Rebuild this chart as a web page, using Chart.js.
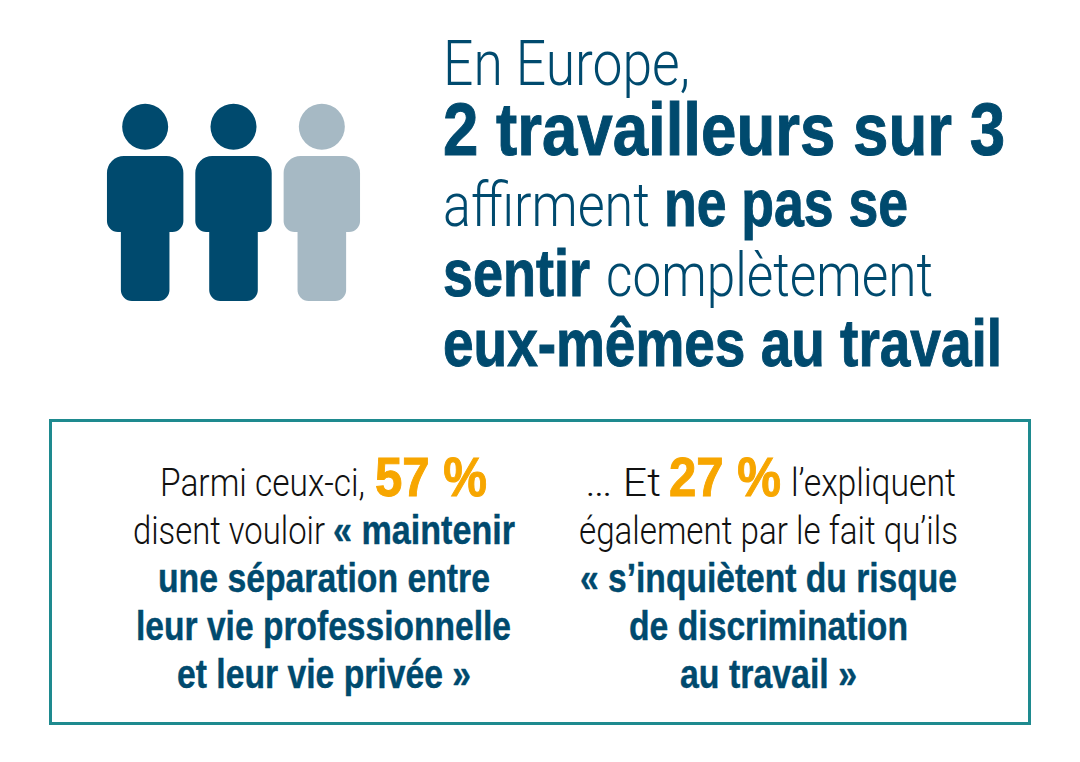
<!DOCTYPE html>
<html lang="fr">
<head>
<meta charset="utf-8">
<title>En Europe, 2 travailleurs sur 3</title>
<script src="https://cdn.jsdelivr.net/npm/chart.js@4"></script>
<style>
  html, body { margin: 0; padding: 0; background: #fff; }
  #page { position: relative; width: 1080px; height: 762px; overflow: hidden; }
  #people { position: absolute; left: 101.3px; top: 100px; width: 265.3px; height: 201px; }
  #box { position: absolute; left: 49px; top: 419px; width: 976px; height: 300px; border: 3px solid #1e8a8f; }
  .t { position: absolute; white-space: pre; transform-origin: 0 0; color: #004a6e; line-height: 0.8; }
  .l { font-family: Roboto, sans-serif; font-weight: 300; }
  .b { font-family: "Liberation Sans Narrow", sans-serif; font-weight: 700; -webkit-text-stroke: 0.4px currentColor; }
  .h { -webkit-text-stroke: 1px currentColor; }
  .k { color: #111; }
  .o { color: #f7a600; -webkit-text-stroke: 1px currentColor; }
</style>
</head>
<body>
<div id="page">
  <canvas id="people" width="265" height="201"></canvas>
  <div id="box"></div>

  <span class="t l" data-x="443" data-y="85" data-w="247" style="font-size:63px">En Europe,</span>
  <span class="t b h" data-x="443" data-y="155" data-w="562" style="font-size:74px">2 travailleurs sur 3</span>
  <span class="t l" data-x="443" data-y="226" data-w="207" style="font-size:61px">affirment</span>
  <span class="t b h" data-x="664" data-y="226" data-w="244" style="font-size:66px">ne pas se</span>
  <span class="t b h" data-x="443" data-y="296" data-w="147" style="font-size:66px">sentir</span>
  <span class="t l" data-x="606" data-y="296" data-w="327" style="font-size:61px">complètement</span>
  <span class="t b h" data-x="443" data-y="366" data-w="559" style="font-size:66px">eux-mêmes au travail</span>

  <span class="t l k" data-x="160" data-y="496" data-w="205" style="font-size:39px">Parmi ceux-ci,</span>
  <span class="t b o" data-x="375" data-y="496" data-w="112" style="font-size:56px">57 %</span>
  <span class="t l k" data-x="133" data-y="544" data-w="192" style="font-size:39px">disent vouloir</span>
  <span class="t b" data-x="333" data-y="544" data-w="182" style="font-size:40px">« maintenir</span>
  <span class="t b" data-x="158" data-y="592" data-w="332" style="font-size:40px">une séparation entre</span>
  <span class="t b" data-x="136" data-y="640" data-w="375" style="font-size:40px">leur vie professionnelle</span>
  <span class="t b" data-x="177" data-y="688" data-w="294" style="font-size:40px">et leur vie privée »</span>

  <span class="t l k" data-x="585" data-y="496" data-w="76" style="font-size:39px">… Et</span>
  <span class="t b o" data-x="669" data-y="496" data-w="112" style="font-size:56px">27 %</span>
  <span class="t l k" data-x="791" data-y="496" data-w="165" style="font-size:39px">l’expliquent</span>
  <span class="t l k" data-x="579" data-y="544" data-w="379" style="font-size:39px">également par le fait qu’ils</span>
  <span class="t b" data-x="580" data-y="592" data-w="377" style="font-size:40px">« s’inquiètent du risque</span>
  <span class="t b" data-x="629" data-y="640" data-w="279" style="font-size:40px">de discrimination</span>
  <span class="t b" data-x="680" data-y="688" data-w="177" style="font-size:40px">au travail »</span>
</div>

<script>
const travailleurs = ["Travailleur 1", "Travailleur 2", "Travailleur 3"]
const affirment = [1, 1, 0]
// silhouettes, in the y scale of the chart
const jambes = [[0, 69], [0, 69], [0, 69]]
const torses = [[69, 145], [69, 145], [69, 145]]
const tetes = [174.3, 174.3, 174.3]

const couleurs = affirment.map(v => v ? "#004a6e" : "#a6b9c4")

new Chart(document.getElementById("people"), {
  type: "bar",
  data: {
    labels: travailleurs,
    datasets: [
      {
        label: "Jambes",
        data: jambes,
        backgroundColor: couleurs,
        barPercentage: 0.55,
        categoryPercentage: 1,
        borderSkipped: false,
        borderRadius: { topLeft: 0, topRight: 0, bottomLeft: 11, bottomRight: 11 },
      },
      {
        label: "Torse",
        data: torses,
        backgroundColor: couleurs,
        barPercentage: 0.865,
        categoryPercentage: 1,
        borderSkipped: false,
        borderRadius: { topLeft: 17, topRight: 17, bottomLeft: 11, bottomRight: 11 },
      },
      {
        type: "line",
        label: "Tête",
        data: tetes,
        showLine: false,
        clip: false,
        pointRadius: 23,
        pointHoverRadius: 23,
        pointBorderWidth: 0,
        pointBackgroundColor: couleurs,
      },
    ],
  },
  options: {
    responsive: false,
    animation: false,
    layout: { padding: 0, autoPadding: false },
    plugins: { legend: { display: false }, tooltip: { enabled: false } },
    scales: {
      x: { display: false, stacked: true },
      y: { display: false, min: 0, max: 201 },
    },
  },
})

// place each piece of text on its baseline and fit it to its width
document.fonts.ready.then(() => {
  document.querySelectorAll(".t").forEach(el => {
    const strut = document.createElement("span")
    strut.style.cssText = "display:inline-block;width:0;height:0"
    el.appendChild(strut)
    el.style.left = el.dataset.x + "px"
    el.style.top = "0px"
    const baseline = strut.getBoundingClientRect().bottom - el.getBoundingClientRect().top
    el.removeChild(strut)
    el.style.top = (el.dataset.y - baseline) + "px"
    el.style.transform = "scaleX(" + (el.dataset.w / el.getBoundingClientRect().width) + ")"
  })
})
</script>
</body>
</html>
